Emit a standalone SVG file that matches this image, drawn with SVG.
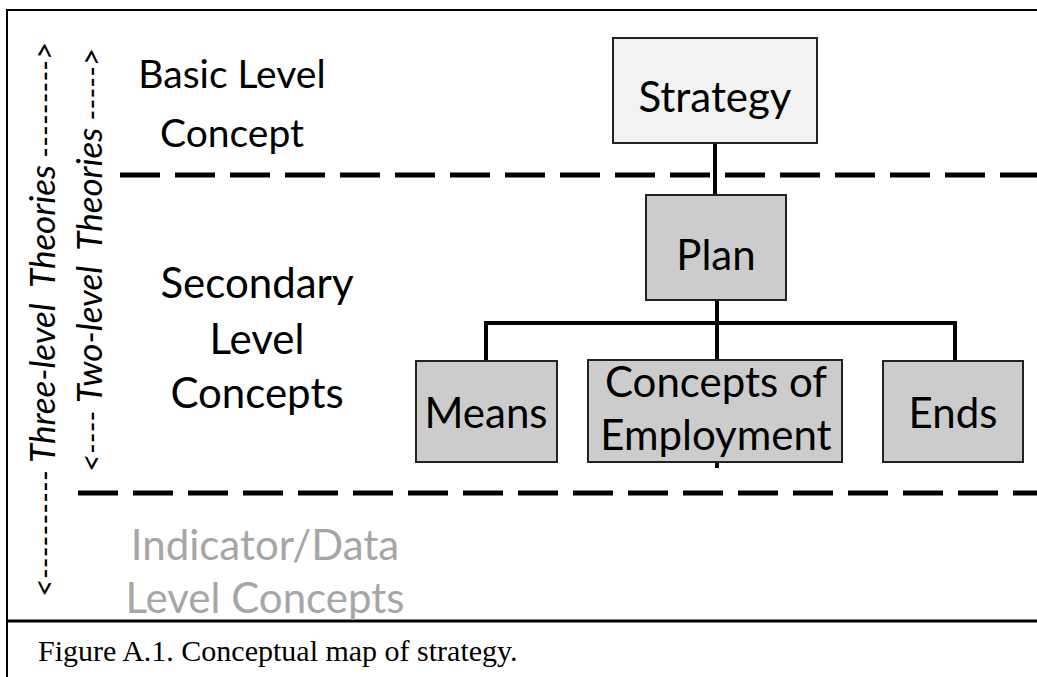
<svg xmlns="http://www.w3.org/2000/svg" width="1037" height="677" viewBox="0 0 1037 677">
<style>
.lbl{font-family:Lato,"Open Sans","DejaVu Sans",sans-serif;font-size:42px;fill:#000;text-anchor:middle}
.basic{font-size:39px}
.gray{fill:#a6a6a6}
.side{font-family:Lato,"Open Sans","DejaVu Sans",sans-serif;font-size:35px;font-style:italic;fill:#000}
.arr{font-size:31px}
.box{stroke:#222;stroke-width:2}
.dash{stroke:#000;stroke-width:5;stroke-dasharray:40 15;fill:none}
.conn{stroke:#000;stroke-width:4;fill:none}
.frame{stroke:#000;fill:none}
</style>
<rect width="1037" height="677" fill="#fff"/>
<g id="frame">
<path class="frame" stroke-width="2" d="M7 677V10H1037"/>
<path class="frame" stroke-width="3" d="M7 621H1037"/>
</g>
<g id="levels">
<path class="dash" d="M120 175H1037"/>
<path class="dash" d="M78 493H1037"/>
</g>
<g id="level-labels">
<text class="lbl basic" x="232" y="88">Basic Level</text>
<text class="lbl basic" x="232" y="147">Concept</text>
<text class="lbl" x="257" y="298">Secondary</text>
<text class="lbl" x="257" y="354">Level</text>
<text class="lbl" x="257" y="408">Concepts</text>
<text class="lbl gray" x="265" y="560">Indicator/Data</text>
<text class="lbl gray" x="265" y="613">Level Concepts</text>
</g>
<g id="side-labels">
<text class="side" transform="translate(55 597) rotate(-90)" xml:space="preserve"><tspan class="arr">&lt;---------- </tspan>Three-level  Theories<tspan class="arr"> ---------&gt;</tspan></text>
<text class="side" transform="translate(102 472) rotate(-90)" xml:space="preserve"><tspan class="arr">&lt;---- </tspan>Two-level  Theories<tspan class="arr"> -----&gt;</tspan></text>
</g>
<g id="connectors">
<path class="conn" d="M715 143V195"/>
<path class="conn" d="M717 300V360"/>
<path class="conn" d="M486 362V323H955V362"/>
<path class="conn" d="M717 462V468"/>
</g>
<g id="strategy">
<rect class="box" x="613" y="38" width="204" height="105" fill="#f2f2f2"/>
<text class="lbl" x="715" y="112">Strategy</text>
</g>
<g id="plan">
<rect class="box" x="646" y="195" width="140" height="105" fill="#cccccc"/>
<text class="lbl" x="716" y="270">Plan</text>
</g>
<g id="means">
<rect class="box" x="416" y="361" width="141" height="101" fill="#cccccc"/>
<text class="lbl" x="486" y="428">Means</text>
</g>
<g id="concepts-of-employment">
<rect class="box" x="588" y="360" width="254" height="102" fill="#cccccc"/>
<text class="lbl" x="716" y="397">Concepts of</text>
<text class="lbl" x="716" y="450">Employment</text>
</g>
<g id="ends">
<rect class="box" x="883" y="361" width="140" height="101" fill="#cccccc"/>
<text class="lbl" x="953" y="428">Ends</text>
</g>
<g id="caption">
<text x="38" y="661" font-family="'Liberation Serif','Times New Roman',serif" font-size="30">Figure A.1. Conceptual map of strategy.</text>
</g>
</svg>
